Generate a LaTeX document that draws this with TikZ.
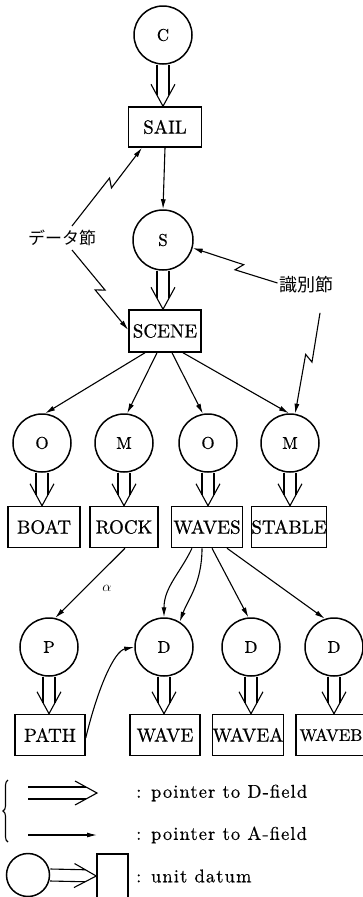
\documentclass[tikz,border=0pt]{standalone}
\usepackage{fontspec}
\newfontfamily\jp{Noto Sans CJK JP}
\newfontfamily\heavy[FakeBold=0.6]{lmroman10-regular.otf}
\newfontfamily\spaced[LetterSpace=6,FakeBold=0.5]{lmroman10-regular.otf}
\usetikzlibrary{calc,arrows.meta,decorations.pathreplacing}

% double-shafted pointer with an open V head: #1 start, #2 end
\newcommand\dptr[2]{%
  \coordinate (dp-s) at (#1);
  \coordinate (dp-e) at (#2);
  \coordinate (dp-m) at ($(dp-e)!11pt!(dp-s)$);
  \coordinate (dp-w) at ($(dp-e)!22pt!(dp-s)$);
  \draw[dln] ($(dp-s)!6pt!90:(dp-e)$) -- ($(dp-m)!6pt!-90:(dp-s)$);
  \draw[dln] ($(dp-s)!6pt!-90:(dp-e)$) -- ($(dp-m)!6pt!90:(dp-s)$);
  \draw[dln] ($(dp-w)!12pt!-90:(dp-s)$) -- (dp-e) -- ($(dp-w)!12pt!90:(dp-s)$);
}
% pointer with a lightning kink: #1 start, #2 end, #3 kink position
\newcommand\zptr[3]{%
  \coordinate (zk) at ($(#1)!#3!(#2)$);
  \coordinate (zk1) at ($(zk)!3pt!(#2)$);
  \coordinate (zk2) at ($(zk)!3pt!(#1)$);
  \draw[ptr] (#1) -- ($(zk1)!4pt!90:(#2)$) -- ($(zk2)!4pt!90:(#1)$) -- (#2);
}

\begin{document}
\begin{tikzpicture}[x=1pt,y=-1pt,
  unit/.style={circle,draw,line width=1.5pt,minimum size=58pt,inner sep=0pt,
    font=\heavy\fontsize{17}{20}\selectfont},
  datum/.style={rectangle,draw,line width=1.5pt,minimum width=71pt,
    minimum height=41pt,inner sep=0pt,font=\heavy\fontsize{19}{22}\selectfont},
  ptr/.style={line width=1.1pt,-{Latex[length=10pt,width=5pt]}},
  dln/.style={line width=1.1pt},
  jlabel/.style={font=\jp\fontsize{17}{20}\selectfont},
  legend/.style={anchor=west,inner sep=0pt,
    font=\spaced\fontsize{18.5}{20}\selectfont}
]
\useasboundingbox (0,0) rectangle (363,897);

% upper chain
\node[unit] (c) at (163,35) {C};
\node[datum,minimum width=73pt,minimum height=40pt] (sail) at (165,127) {SAIL};
\node[unit,minimum size=60pt] (s) at (163,240) {S};
\node[datum,minimum width=72pt,minimum height=42pt] (scene) at (165,331) {SCENE};

\dptr{c.south}{c.south |- sail.north}
\draw[ptr] (sail.south) -- (s.north);
\dptr{s.south}{s.south |- scene.north}

% second level
\node[unit] (o1) at (42,443) {O};
\node[unit] (m1) at (124,443) {M};
\node[unit] (o2) at (208,443) {O};
\node[unit] (m2) at (290,443) {M};
\node[datum,minimum width=72pt] (boat) at (44,527) {BOAT};
\node[datum,minimum width=68pt] (rock) at (124,527) {ROCK};
\node[datum,minimum width=71pt] (waves) at (207,527) {WAVES};
\node[datum,minimum width=72pt] (stable) at (289,527) {STABLE};

\draw[ptr] ($(scene.south)+(-20,0)$) -- (o1.84);
\draw[ptr] ($(scene.south)+(-8,0)$) -- (m1.84);
\draw[ptr] ($(scene.south)+(7,0)$) -- (o2.100);
\draw[ptr] ($(scene.south)+(18,0)$) -- (m2.92);

\dptr{o1.south}{o1.south |- boat.north}
\dptr{m1.south}{m1.south |- rock.north}
\dptr{o2.south}{o2.south |- waves.north}
\dptr{m2.south}{m2.south |- stable.north}

% third level
\node[unit] (p) at (49,647) {P};
\node[unit] (d1) at (164,647) {D};
\node[unit] (d2) at (251,647) {D};
\node[unit] (d3) at (334,647) {D};
\node[datum,minimum width=70pt] (path) at (50,735) {PATH};
\node[datum,minimum width=70pt] (wave) at (165,735) {WAVE};
\node[datum,minimum width=70pt] (wavea) at (248,735) {WAVEA};
\node[datum,minimum width=70pt,font=\heavy\fontsize{17}{20}\selectfont] (waveb) at (331,735) {WAVEB};

\draw[ptr] ($(rock.south)+(1,0)$) -- (p.78);
\node[font=\fontsize{15}{17}\selectfont] (alpha) at (107,588) {$\alpha$};
\draw[ptr] ($(waves.south)+(-15,0)$) .. controls +(-12,25) and +(0,-30) .. (d1.north);
\draw[ptr] ($(waves.south)+(-5,0)$) .. controls +(0,35) and +(8,-22) .. (d1.58);
\draw[ptr] ($(waves.south)+(5,0)$) -- (d2.95);
\draw[ptr] ($(waves.south)+(20,0)$) -- (d3.108);
\draw[ptr] ($(path.east)+(0,3)$) .. controls +(12,-50) and +(-20,4) .. (d1.west);

\dptr{p.south}{p.south |- path.north}
\dptr{d1.south}{d1.south |- wave.north}
\dptr{d2.south}{d2.south |- wavea.north}
\dptr{d3.south}{d3.south |- waveb.north}

% field labels
\node[jlabel] (data) at (62,238) {データ節};
\node[jlabel,font=\jp\fontsize{18}{20}\selectfont] (ident) at (306,285) {識別節};
\coordinate (data-up) at ($(data.center)+(10,-12)$);
\coordinate (data-dn) at ($(data.center)+(10,12)$);
\coordinate (sail-in) at ($(sail.south)+(-23,0)$);
\coordinate (scene-in) at ($(scene.west)+(0,-1)$);
\coordinate (ident-l) at ($(ident.west)+(2,-2)$);
\coordinate (ident-b) at ($(ident.south)+(14,16)$);
\zptr{data-up}{sail-in}{0.55}
\zptr{data-dn}{scene-in}{0.5}
\zptr{ident-l}{s.-15}{0.45}
\zptr{ident-b}{m2.80}{0.45}

% legend
\draw[line width=1.1pt,decorate,decoration={brace,amplitude=5pt}]
  (8,842) -- (8,780);
\coordinate (l1a) at (28,793);
\coordinate (l1b) at (97,793);
\coordinate (l2a) at (28,835);
\coordinate (l2b) at (97,835);
\dptr{l1a}{l1b}
\draw[ptr] (l2a) -- (l2b);
\node[legend] (t1) at (136,793) {: pointer to D-field};
\node[legend] (t2) at (136,835) {: pointer to A-field};

\node[unit,minimum size=43pt] (lc) at (28,875) {};
\node[datum,minimum width=31pt,minimum height=44pt] (lb) at (112.5,876) {};
\dptr{lc.east}{lb.west}
\node[legend] (t3) at (136,876) {: unit datum};
\end{tikzpicture}
\end{document}
